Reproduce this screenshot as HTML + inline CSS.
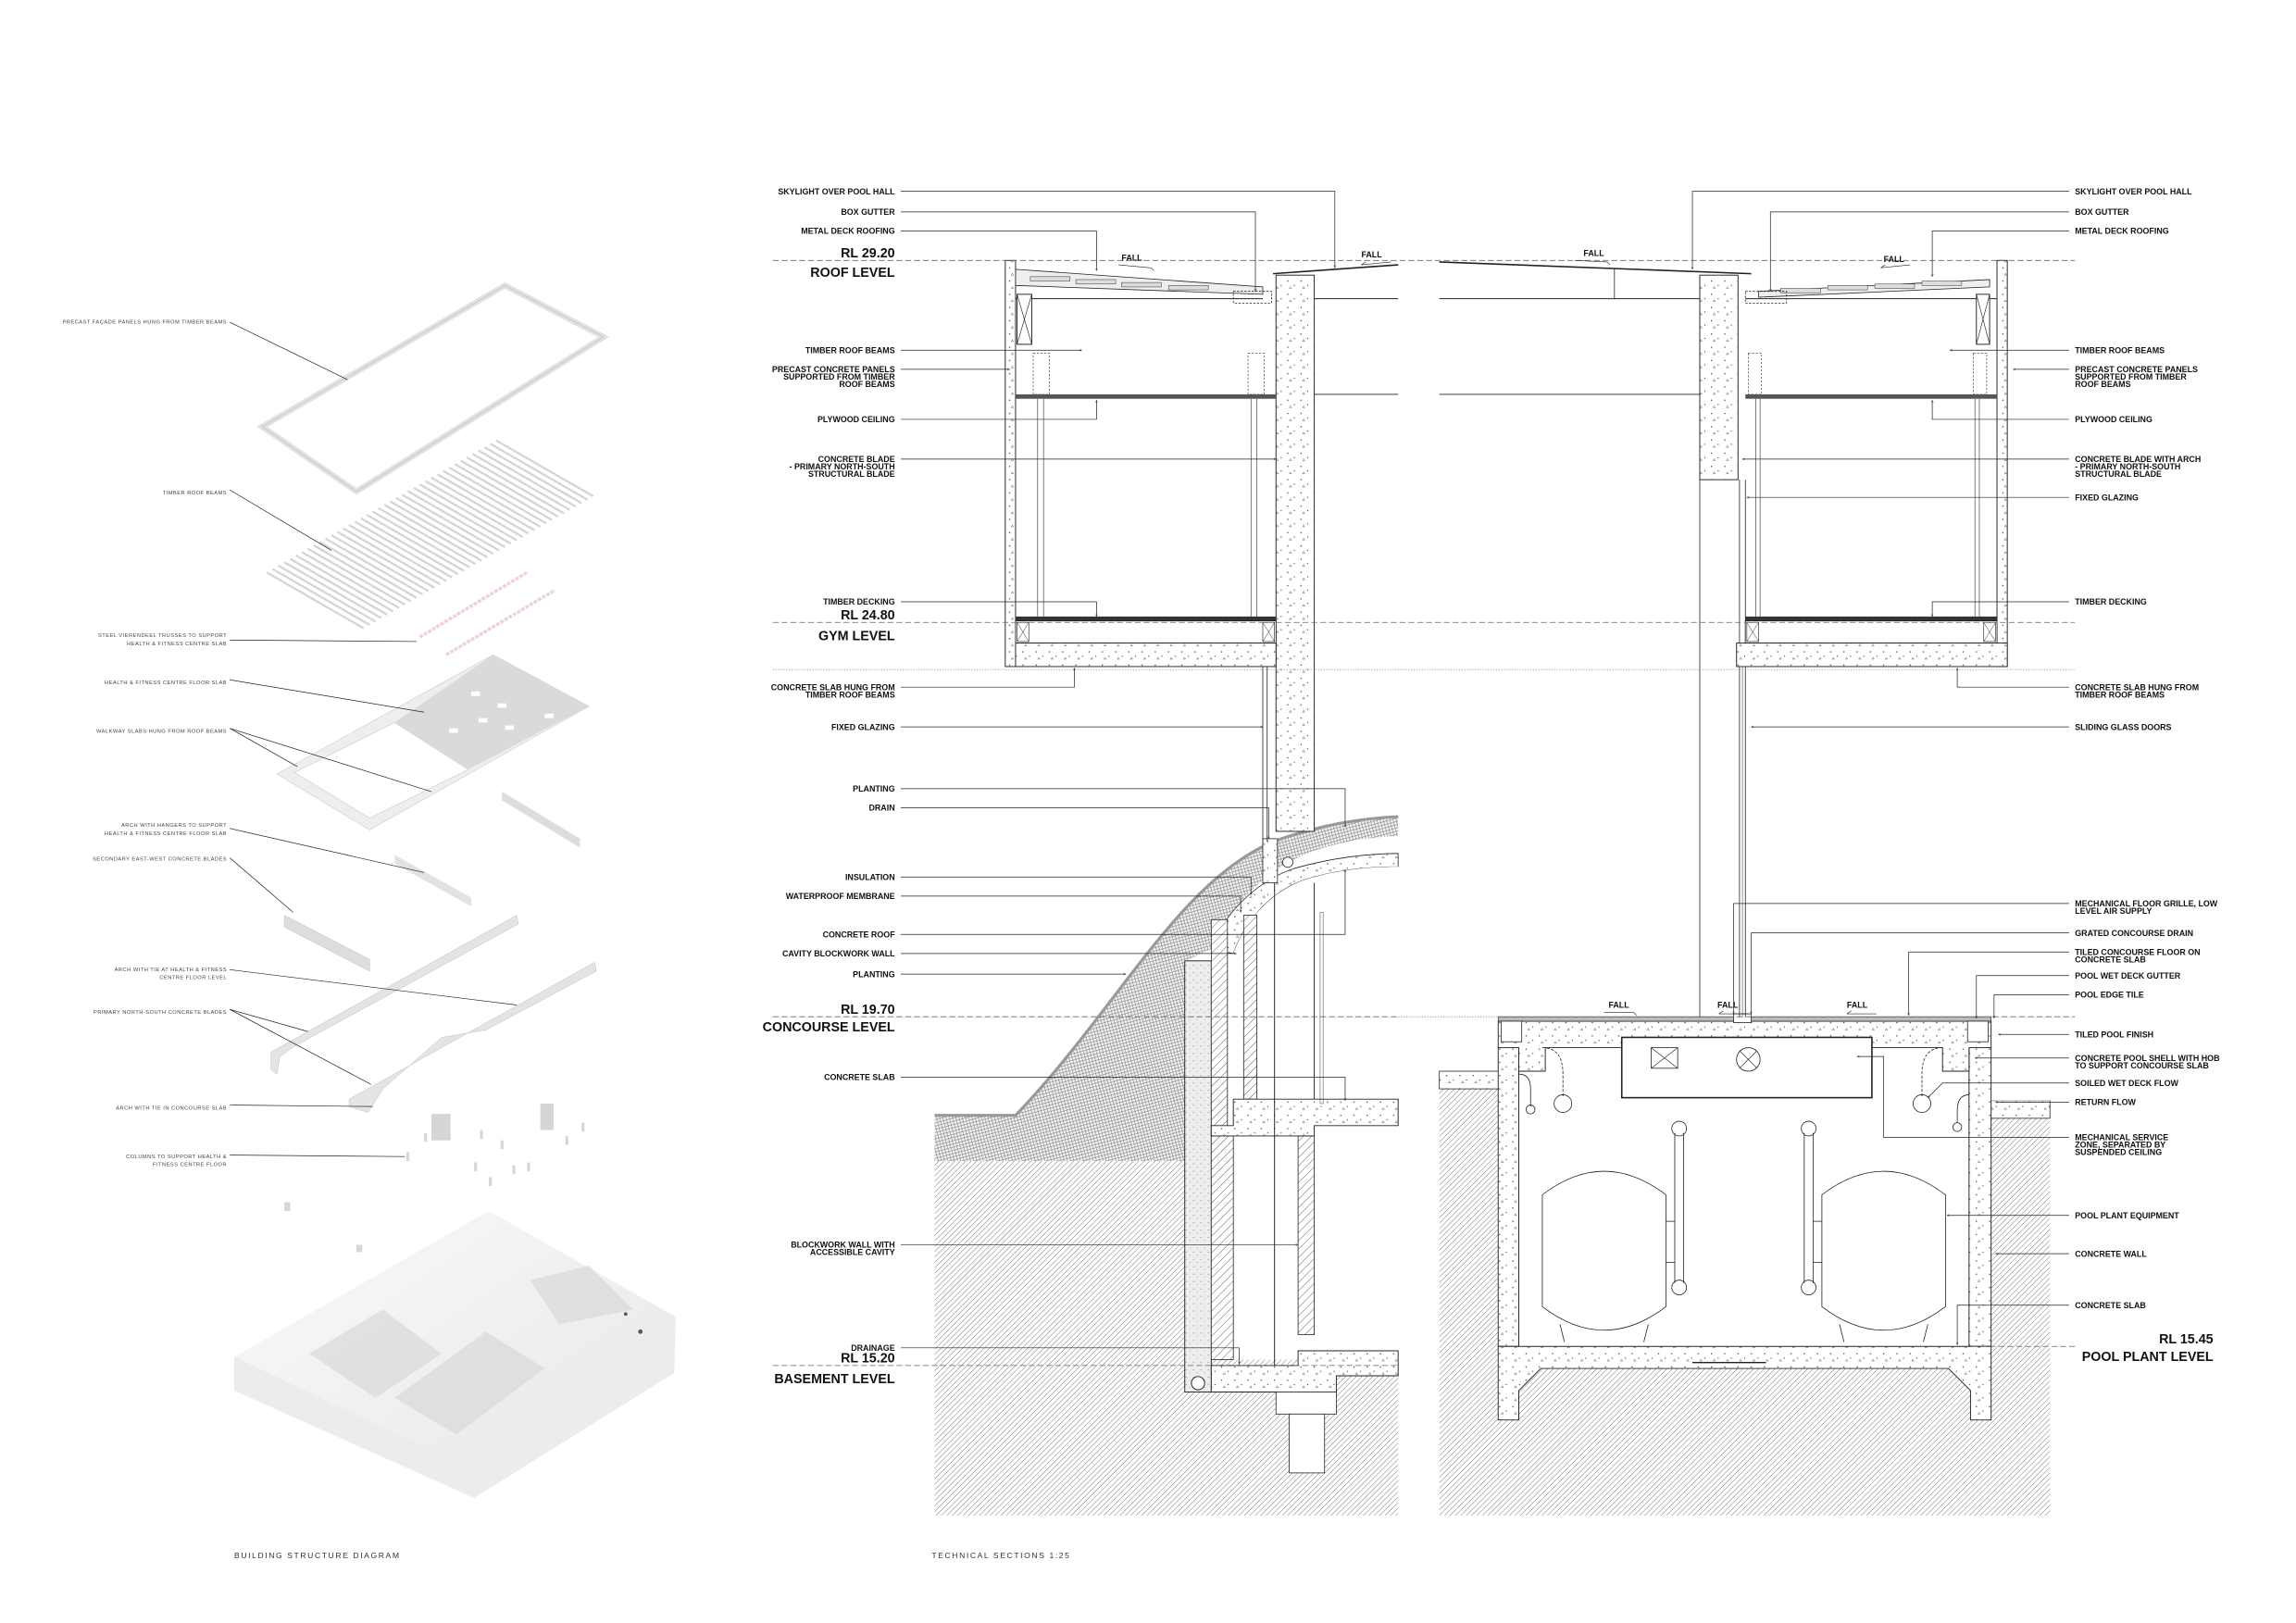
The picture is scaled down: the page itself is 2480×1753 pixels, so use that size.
<!DOCTYPE html>
<html><head><meta charset="utf-8"><style>
html,body{margin:0;padding:0;background:#fff}
svg{display:block}
.l{font-family:"Liberation Sans",sans-serif;font-weight:bold;font-size:5.6px;fill:#111}
.lv{font-family:"Liberation Sans",sans-serif;font-weight:bold;font-size:9px;fill:#111}
.sm{font-family:"Liberation Sans",sans-serif;font-size:3.6px;fill:#444;letter-spacing:0.3px}
.cap{font-family:"Liberation Sans",sans-serif;font-size:5.4px;fill:#333;letter-spacing:1px}
.ld{stroke:#222;stroke-width:0.45;fill:none}
.th{stroke:#222;stroke-width:0.6;fill:none}
</style></head><body>
<svg width="2480" height="1753" viewBox="0 0 1560 1103" xmlns="http://www.w3.org/2000/svg">
<defs>
<pattern id="hat" width="2.6" height="2.6" patternUnits="userSpaceOnUse" patternTransform="rotate(45)"><rect width="2.6" height="2.6" fill="#fff"/><line x1="0" y1="0" x2="0" y2="2.6" stroke="#444" stroke-width="0.45"/></pattern>
<pattern id="hat2" width="4" height="4" patternUnits="userSpaceOnUse" patternTransform="rotate(45)"><rect width="4" height="4" fill="#fff"/><line x1="0" y1="0" x2="0" y2="4" stroke="#333" stroke-width="0.5"/></pattern>
<pattern id="xh" width="3" height="3" patternUnits="userSpaceOnUse" patternTransform="rotate(30)"><rect width="3" height="3" fill="#f2f2f2"/><path d="M0,0L3,3M3,0L0,3" stroke="#777" stroke-width="0.35"/></pattern>
<pattern id="con" width="9" height="9" patternUnits="userSpaceOnUse"><rect width="9" height="9" fill="#fff"/><circle cx="2" cy="2" r="0.45" fill="#444"/><circle cx="6.5" cy="5" r="0.4" fill="#444"/><path d="M3,7l0.8,-1.3l0.8,1.3z" fill="none" stroke="#444" stroke-width="0.25"/></pattern>
<pattern id="con2" width="5" height="5" patternUnits="userSpaceOnUse"><rect width="5" height="5" fill="#eee"/><circle cx="1" cy="1" r="0.35" fill="#777"/><circle cx="3.5" cy="3" r="0.3" fill="#777"/></pattern>
<marker id="a" viewBox="0 0 6 6" refX="5.5" refY="3" markerWidth="4" markerHeight="4" orient="auto"><path d="M0,0.5L5.5,3L0,5.5" fill="none" stroke="#222" stroke-width="0.8"/></marker>
<linearGradient id="bg" x1="0" y1="0" x2="1" y2="1"><stop offset="0" stop-color="#fafafa"/><stop offset="1" stop-color="#e6e6e6"/></linearGradient>
</defs>

<!-- ================= LEFT DIAGRAM ================= -->
<g>
<path d="M178,290 L343,194 L410,229 L242,334 Z" fill="none" stroke="#e2e2e2" stroke-width="4"/>
<path d="M178,290 L343,194 L410,229 L242,334 Z" fill="none" stroke="#bbb" stroke-width="0.4"/>
<g stroke="#d4d4d4" stroke-width="1.4">
<line x1="181" y1="389" x2="247" y2="427"/><line x1="185" y1="386.7" x2="251" y2="424.7"/><line x1="189" y1="384.4" x2="255" y2="422.4"/><line x1="193" y1="382.1" x2="259" y2="420.1"/><line x1="197" y1="379.8" x2="263" y2="417.8"/><line x1="201" y1="377.5" x2="267" y2="415.5"/><line x1="205" y1="375.2" x2="271" y2="413.2"/><line x1="209" y1="372.9" x2="275" y2="410.9"/><line x1="213" y1="370.6" x2="279" y2="408.6"/><line x1="217" y1="368.3" x2="283" y2="406.3"/><line x1="221" y1="366" x2="287" y2="404"/><line x1="225" y1="363.7" x2="291" y2="401.7"/><line x1="229" y1="361.4" x2="295" y2="399.4"/><line x1="233" y1="359.1" x2="299" y2="397.1"/><line x1="237" y1="356.8" x2="303" y2="394.8"/><line x1="241" y1="354.5" x2="307" y2="392.5"/><line x1="245" y1="352.2" x2="311" y2="390.2"/><line x1="249" y1="349.9" x2="315" y2="387.9"/><line x1="253" y1="347.6" x2="319" y2="385.6"/><line x1="257" y1="345.3" x2="323" y2="383.3"/><line x1="261" y1="343" x2="327" y2="381"/><line x1="265" y1="340.7" x2="331" y2="378.7"/><line x1="269" y1="338.4" x2="335" y2="376.4"/><line x1="273" y1="336.1" x2="339" y2="374.1"/><line x1="277" y1="333.8" x2="343" y2="371.8"/><line x1="281" y1="331.5" x2="347" y2="369.5"/><line x1="285" y1="329.2" x2="351" y2="367.2"/><line x1="289" y1="326.9" x2="355" y2="364.9"/><line x1="293" y1="324.6" x2="359" y2="362.6"/><line x1="297" y1="322.3" x2="363" y2="360.3"/><line x1="301" y1="320" x2="367" y2="358"/><line x1="305" y1="317.7" x2="371" y2="355.7"/><line x1="309" y1="315.4" x2="375" y2="353.4"/><line x1="313" y1="313.1" x2="379" y2="351.1"/><line x1="317" y1="310.8" x2="383" y2="348.8"/><line x1="321" y1="308.5" x2="387" y2="346.5"/><line x1="325" y1="306.2" x2="391" y2="344.2"/><line x1="329" y1="303.9" x2="395" y2="341.9"/><line x1="333" y1="301.6" x2="399" y2="339.6"/><line x1="337" y1="299.3" x2="403" y2="337.3"/>
</g>
<g stroke="#ecd4d4" stroke-width="2.2" stroke-dasharray="2.5,0.8"><line x1="285" y1="433" x2="358" y2="389"/><line x1="303" y1="445" x2="377" y2="401"/></g>
<path d="M188,526 L335,445 L400,480 L251,564 Z" fill="#eee" stroke="#ccc" stroke-width="0.4"/>
<path d="M200,525 L268,491 L318,523 L251,556 Z" fill="#fff" stroke="#ccc" stroke-width="0.4"/>
<path d="M268,491 L335,445 L400,480 L318,523 Z" fill="#dadada"/>
<g fill="#fff"><rect x="320" y="470" width="6" height="3"/><rect x="338" y="478" width="6" height="3"/><rect x="325" y="488" width="6" height="3"/><rect x="343" y="493" width="6" height="3"/><rect x="370" y="485" width="6" height="3"/><rect x="305" y="495" width="6" height="3"/></g>
<path d="M341,538 L394,570 L394,576 L341,544 Z" fill="#ddd"/>
<path d="M268,581 L320,610 L320,616 L268,587 Z" fill="#e2e2e2"/>
<path d="M193,622 L251,652 L251,660 L193,630 Z" fill="#ddd" stroke="#bbb" stroke-width="0.3"/>
<path d="M184,715 L351,622 L352,628 L200,711 L190,718 L188,730 L184,727 Z" fill="#e4e4e4" stroke="#bbb" stroke-width="0.3"/>
<path d="M237,747 L404,654 L405,660 L330,700 L300,705 L260,740 L250,756 L237,752 Z" fill="#e4e4e4" stroke="#bbb" stroke-width="0.3"/>
<g fill="#d6d6d6"><rect x="293" y="757" width="13" height="18"/><rect x="367" y="750" width="9" height="18"/><rect x="276" y="783" width="2" height="6"/><rect x="288" y="770" width="2" height="6"/><rect x="326" y="768" width="2" height="6"/><rect x="322" y="790" width="2" height="6"/><rect x="340" y="775" width="2" height="6"/><rect x="348" y="792" width="2" height="6"/><rect x="358" y="790" width="2" height="6"/><rect x="395" y="763" width="2" height="6"/><rect x="384" y="772" width="2" height="6"/><rect x="332" y="800" width="2" height="6"/><rect x="193" y="817" width="4" height="6"/><rect x="242" y="846" width="4" height="5"/></g>
<path d="M159,922 L332,823 L459,895 L458,933 L322,1018 L159,945 Z" fill="url(#bg)"/>
<path d="M159,922 L322,1000 L458,905 L458,933 L322,1018 L159,945 Z" fill="#ececec"/>
<path d="M210,920 L260,890 L300,920 L255,950 Z M268,950 L330,905 L370,930 L310,975 Z M360,870 L400,860 L430,890 L380,900 Z" fill="#d9d9d9" opacity="0.7"/>
<circle cx="435" cy="905" r="1.5" fill="#555"/><circle cx="425" cy="893" r="1.2" fill="#555"/>
<g class="ld" stroke="#555">
<line x1="156" y1="219" x2="236" y2="258"/><line x1="156" y1="333" x2="225" y2="374"/><line x1="156" y1="435" x2="283" y2="436"/><line x1="156" y1="462" x2="288" y2="484"/><line x1="156" y1="495" x2="202" y2="521"/><line x1="156" y1="495" x2="293" y2="538"/><line x1="156" y1="563" x2="288" y2="593"/><line x1="156" y1="583" x2="199" y2="620"/><line x1="156" y1="659" x2="351" y2="683"/><line x1="156" y1="686" x2="209" y2="701"/><line x1="156" y1="686" x2="252" y2="737"/><line x1="156" y1="751" x2="253" y2="752"/><line x1="156" y1="785" x2="275" y2="786"/>
</g>
<g class="sm" text-anchor="end">
<text x="154" y="220">PRECAST FAÇADE PANELS HUNG FROM TIMBER BEAMS</text>
<text x="154" y="336">TIMBER ROOF BEAMS</text>
<text x="154" y="433">STEEL VIERENDEEL TRUSSES TO SUPPORT</text><text x="154" y="438.5">HEALTH &amp; FITNESS CENTRE SLAB</text>
<text x="154" y="465">HEALTH &amp; FITNESS CENTRE FLOOR SLAB</text>
<text x="154" y="498">WALKWAY SLABS HUNG FROM ROOF BEAMS</text>
<text x="154" y="562">ARCH WITH HANGERS TO SUPPORT</text><text x="154" y="567.5">HEALTH &amp; FITNESS CENTRE FLOOR SLAB</text>
<text x="154" y="585">SECONDARY EAST-WEST CONCRETE BLADES</text>
<text x="154" y="660">ARCH WITH TIE AT HEALTH &amp; FITNESS</text><text x="154" y="665.5">CENTRE FLOOR LEVEL</text>
<text x="154" y="689">PRIMARY NORTH-SOUTH CONCRETE BLADES</text>
<text x="154" y="754">ARCH WITH TIE IN CONCOURSE SLAB</text>
<text x="154" y="787">COLUMNS TO SUPPORT HEALTH &amp;</text><text x="154" y="792.5">FITNESS CENTRE FLOOR</text>
</g>
<text class="cap" x="159" y="1059">BUILDING STRUCTURE DIAGRAM</text>
</g>

<!-- ================= LEFT SECTION ================= -->
<g>
<rect x="635" y="789" width="315" height="241" fill="url(#hat)"/>
<path d="M635,758 L690,758 C760,685 800,600 865,572 C895,561 925,556 950,555 L950,568 C912,570 886,578 866,592 C846,606 832,625 823,645 L805,653 L805,789 L635,789 Z" fill="url(#xh)"/>
<path d="M635,758 L690,758 C760,685 800,600 865,572 C895,561 925,556 950,555" fill="none" stroke="#999" stroke-width="2"/>
<path d="M823,645 C833,617 858,597 880,590 C905,583 930,580 950,580 L950,589 C926,589 905,592 886,598 C862,607 846,626 838,648 Z" fill="url(#con)" stroke="#222" stroke-width="0.5"/>
<path d="M838,648 C846,626 862,607 886,598 C905,592 926,589 950,589 L950,924 L838,924 Z" fill="#fff"/>
<rect x="805" y="653" width="18" height="293" fill="url(#con2)" stroke="#222" stroke-width="0.6"/>
<circle cx="814" cy="940" r="4.5" fill="#fff" stroke="#222" stroke-width="0.6"/>
<rect x="823" y="625" width="11" height="147" fill="url(#hat2)" stroke="#222" stroke-width="0.5"/>
<rect x="845" y="622" width="9" height="125" fill="url(#hat2)" stroke="#222" stroke-width="0.5"/>
<rect x="823" y="772" width="15" height="152" fill="url(#hat2)" stroke="#222" stroke-width="0.5"/>
<rect x="882" y="772" width="11" height="135" fill="url(#hat2)" stroke="#222" stroke-width="0.5"/>
<path d="M823,765 L838,765 L838,747 L950,747 L950,765 L893,765 L893,772 L823,772 Z" fill="url(#con)" stroke="#222" stroke-width="0.6"/>
<path d="M823,928 L882,928 L882,918 L950,918 L950,935 L908,935 L908,946 L823,946 Z" fill="url(#con)" stroke="#222" stroke-width="0.6"/>
<rect x="867" y="946" width="41" height="15" fill="#fff" stroke="#222" stroke-width="0.5"/>
<rect x="876" y="961" width="24" height="40" fill="#fff" stroke="#222" stroke-width="0.5"/>
<line x1="866" y1="600" x2="866" y2="928" class="th" stroke-width="0.4"/>
<line x1="893" y1="600" x2="893" y2="747" class="th" stroke-width="0.4"/>
<rect x="897" y="620" width="2" height="130" fill="none" stroke="#333" stroke-width="0.3"/>
<rect x="858" y="570" width="10" height="30" fill="url(#con)" stroke="#222" stroke-width="0.5"/>
<circle cx="875" cy="586" r="3.5" fill="#fff" stroke="#222" stroke-width="0.5"/>
<line x1="858" y1="452" x2="858" y2="572" stroke="#222" stroke-width="0.5"/><line x1="861" y1="452" x2="861" y2="572" stroke="#222" stroke-width="0.5"/>
<rect x="683" y="177" width="7" height="276" fill="url(#con)" stroke="#222" stroke-width="0.6"/>
<rect x="867" y="187" width="26" height="378" fill="url(#con)" stroke="#222" stroke-width="0.6"/>
<path d="M690,183 L858,195 L858,200 L690,194 Z" fill="#eee" stroke="#222" stroke-width="0.5"/>
<g stroke="#555" stroke-width="0.4" fill="#ddd"><rect x="700" y="188" width="27" height="3"/><rect x="731" y="190" width="27" height="3"/><rect x="762" y="192" width="27" height="3"/><rect x="794" y="194" width="27" height="3"/></g>
<line x1="690" y1="203" x2="858" y2="203" class="th"/>
<path d="M838,198 L864,198 L864,206 L838,206 Z" fill="none" stroke="#222" stroke-width="0.5" stroke-dasharray="1.5,1"/>
<line x1="865" y1="186" x2="950" y2="180" stroke="#222" stroke-width="1"/>
<line x1="893" y1="203" x2="950" y2="203" class="th" stroke-width="0.4"/>
<line x1="893" y1="268" x2="950" y2="268" class="th" stroke-width="0.4"/>
<rect x="691" y="200" width="10" height="34" fill="#fff" stroke="#222" stroke-width="0.6"/><path d="M691,200L701,234M701,200L691,234" stroke="#222" stroke-width="0.4"/>
<rect x="702" y="240" width="11" height="28" fill="none" stroke="#333" stroke-width="0.4" stroke-dasharray="1.5,1"/>
<rect x="848" y="240" width="11" height="28" fill="none" stroke="#333" stroke-width="0.4" stroke-dasharray="1.5,1"/>
<rect x="690" y="268" width="177" height="3" fill="#555"/>
<g stroke="#333" stroke-width="0.4"><line x1="705" y1="271" x2="705" y2="419"/><line x1="709" y1="271" x2="709" y2="419"/><line x1="850" y1="271" x2="850" y2="419"/><line x1="854" y1="271" x2="854" y2="419"/></g>
<rect x="690" y="419" width="177" height="3" fill="#333"/>
<rect x="690" y="422" width="177" height="15" fill="#fff" stroke="#222" stroke-width="0.5"/>
<rect x="691" y="423" width="8" height="13" fill="none" stroke="#222" stroke-width="0.4"/><path d="M691,423L699,436M699,423L691,436" stroke="#222" stroke-width="0.3"/>
<rect x="858" y="423" width="8" height="13" fill="none" stroke="#222" stroke-width="0.4"/><path d="M858,423L866,436M866,423L858,436" stroke="#222" stroke-width="0.3"/>
<rect x="690" y="437" width="177" height="16" fill="url(#con)" stroke="#222" stroke-width="0.6"/>
</g>

<!-- ================= RIGHT SECTION ================= -->
<g>
<rect x="978" y="740" width="415" height="290" fill="url(#hat)"/>
<rect x="978" y="728" width="42" height="12" fill="url(#con)" stroke="#222" stroke-width="0.5"/>
<rect x="1352" y="748" width="41" height="12" fill="url(#con)" stroke="#222" stroke-width="0.5"/>
<rect x="1352" y="740" width="41" height="8" fill="#fff"/>
<rect x="1032" y="712" width="306" height="203" fill="#fff"/>
<rect x="1018" y="712" width="14" height="203" fill="url(#con)" stroke="#222" stroke-width="0.6"/>
<rect x="1338" y="712" width="15" height="203" fill="url(#con)" stroke="#222" stroke-width="0.6"/>
<path d="M1018,915 L1353,915 L1353,965 L1339,965 L1339,945 L1324,930 L1047,930 L1032,945 L1032,965 L1018,965 Z" fill="url(#con)" stroke="#222" stroke-width="0.6"/>
<path d="M1018,712 L1018,694 L1353,694 L1353,712 L1338,712 L1338,728 L1320,728 L1320,712 L1050,712 L1050,728 L1032,728 L1032,712 Z" fill="url(#con)" stroke="#222" stroke-width="0.6"/>
<rect x="1018" y="691" width="335" height="3" fill="#bbb" stroke="#222" stroke-width="0.4"/>
<rect x="1020" y="694" width="14" height="14" fill="#fff" stroke="#222" stroke-width="0.5"/>
<rect x="1337" y="694" width="14" height="14" fill="#fff" stroke="#222" stroke-width="0.5"/>
<rect x="1178" y="689" width="12" height="6" fill="#fff" stroke="#222" stroke-width="0.5"/>
<rect x="1102" y="705" width="170" height="41" fill="#fff" stroke="#222" stroke-width="1"/>
<rect x="1122" y="712" width="18" height="14" fill="none" stroke="#222" stroke-width="0.5"/><path d="M1122,712L1140,726M1140,712L1122,726" stroke="#222" stroke-width="0.4"/>
<circle cx="1188" cy="720" r="8" fill="#fff" stroke="#222" stroke-width="0.5"/><path d="M1182,714L1194,726M1194,714L1182,726" stroke="#222" stroke-width="0.4"/>
<g fill="none" stroke="#222" stroke-width="0.5">
<path d="M1032,730 Q1040,730 1040,740 L1040,752"/><circle cx="1040" cy="754" r="3"/>
<path d="M1048,712 Q1062,712 1062,730 L1062,745" stroke-dasharray="2,1"/><circle cx="1062" cy="750" r="6"/>
<path d="M1320,712 Q1306,712 1306,730 L1306,745" stroke-dasharray="2,1"/><circle cx="1306" cy="750" r="6"/>
<path d="M1338,744 Q1330,744 1330,755 L1330,763"/><circle cx="1330" cy="766" r="3"/>
<path d="M1048,812 Q1090,780 1132,812 L1132,888 Q1090,920 1048,888 Z"/>
<path d="M1238,812 Q1280,780 1322,812 L1322,888 Q1280,920 1238,888 Z"/>
<path d="M1060,900 L1063,912 M1120,900 L1117,912 M1250,900 L1253,912 M1310,900 L1307,912"/>
<line x1="1138" y1="770" x2="1138" y2="872"/><line x1="1144" y1="770" x2="1144" y2="872"/><circle cx="1141" cy="767" r="5"/><circle cx="1141" cy="875" r="5"/>
<line x1="1132" y1="830" x2="1138" y2="830"/><line x1="1132" y1="858" x2="1138" y2="858"/>
<line x1="1226" y1="770" x2="1226" y2="872"/><line x1="1232" y1="770" x2="1232" y2="872"/><circle cx="1229" cy="767" r="5"/><circle cx="1229" cy="875" r="5"/>
<line x1="1232" y1="830" x2="1238" y2="830"/><line x1="1232" y1="858" x2="1238" y2="858"/>
<line x1="1150" y1="926" x2="1200" y2="926" stroke-width="0.8"/>
</g>
<line x1="1182" y1="326" x2="1182" y2="691" stroke="#222" stroke-width="0.5"/><line x1="1186" y1="326" x2="1186" y2="691" stroke="#222" stroke-width="0.5"/><line x1="1184" y1="452" x2="1184" y2="691" stroke="#222" stroke-width="0.3"/>
<line x1="1155" y1="326" x2="1155" y2="691" stroke="#222" stroke-width="0.5"/>
<line x1="978" y1="178" x2="1190" y2="186" stroke="#222" stroke-width="1"/>
<line x1="1097" y1="183" x2="1097" y2="203" stroke="#222" stroke-width="0.5"/>
<line x1="978" y1="203" x2="1155" y2="203" class="th" stroke-width="0.4"/>
<line x1="978" y1="268" x2="1155" y2="268" class="th" stroke-width="0.4"/>
<rect x="1155" y="187" width="26" height="139" fill="url(#con)" stroke="#222" stroke-width="0.6"/>
<rect x="1357" y="177" width="7" height="276" fill="url(#con)" stroke="#222" stroke-width="0.6"/>
<path d="M1195,198 L1352,190 L1352,195 L1195,202 Z" fill="#eee" stroke="#222" stroke-width="0.5"/>
<g stroke="#555" stroke-width="0.4" fill="#ddd"><rect x="1210" y="196" width="27" height="3"/><rect x="1242" y="194" width="27" height="3"/><rect x="1274" y="193" width="27" height="3"/><rect x="1306" y="191" width="27" height="3"/></g>
<line x1="1186" y1="203" x2="1357" y2="203" class="th"/>
<path d="M1186,198 L1214,198 L1214,206 L1186,206 Z" fill="none" stroke="#222" stroke-width="0.5" stroke-dasharray="1.5,1"/>
<rect x="1343" y="200" width="9" height="34" fill="#fff" stroke="#222" stroke-width="0.6"/><path d="M1343,200L1352,234M1352,200L1343,234" stroke="#222" stroke-width="0.4"/>
<rect x="1188" y="240" width="9" height="28" fill="none" stroke="#333" stroke-width="0.4" stroke-dasharray="1.5,1"/>
<rect x="1341" y="240" width="9" height="28" fill="none" stroke="#333" stroke-width="0.4" stroke-dasharray="1.5,1"/>
<rect x="1186" y="268" width="171" height="3" fill="#555"/>
<g stroke="#333" stroke-width="0.4"><line x1="1193" y1="271" x2="1193" y2="419"/><line x1="1196" y1="271" x2="1196" y2="419"/><line x1="1342" y1="271" x2="1342" y2="419"/><line x1="1345" y1="271" x2="1345" y2="419"/></g>
<rect x="1186" y="419" width="171" height="3" fill="#333"/>
<rect x="1186" y="422" width="171" height="15" fill="#fff" stroke="#222" stroke-width="0.5"/>
<rect x="1187" y="423" width="8" height="13" fill="none" stroke="#222" stroke-width="0.4"/><path d="M1187,423L1195,436M1195,423L1187,436" stroke="#222" stroke-width="0.3"/>
<rect x="1348" y="423" width="8" height="13" fill="none" stroke="#222" stroke-width="0.4"/><path d="M1348,423L1356,436M1356,423L1348,436" stroke="#222" stroke-width="0.3"/>
<rect x="1180" y="437" width="184" height="16" fill="url(#con)" stroke="#222" stroke-width="0.6"/>
</g>

<g stroke="#666" stroke-width="0.5" stroke-dasharray="4,2" fill="none">
<line x1="525" y1="177" x2="1410" y2="177"/><line x1="525" y1="423" x2="1410" y2="423"/>
<line x1="525" y1="691" x2="950" y2="691"/><line x1="1018" y1="691" x2="1410" y2="691"/>
<line x1="525" y1="928" x2="950" y2="928"/><line x1="1340" y1="915" x2="1410" y2="915"/>
</g>
<g stroke="#888" stroke-width="0.5" stroke-dasharray="0.8,1" fill="none">
<line x1="525" y1="455" x2="1410" y2="455"/><line x1="950" y1="691" x2="1018" y2="691"/>
</g>

<g class="l">
<text x="762" y="177">FALL</text><text x="925" y="175">FALL</text><text x="1076" y="174">FALL</text><text x="1280" y="178">FALL</text>
<text x="1093" y="685">FALL</text><text x="1167" y="685">FALL</text><text x="1255" y="685">FALL</text>
</g>
<g stroke="#222" stroke-width="0.4" fill="none">
<path d="M760,180 L782,182 L784,184"/><path d="M925,180 L945,178 M925,180 L928,178"/><path d="M1070,177 L1092,178 L1094,180"/><path d="M1278,182 L1298,180 M1278,182 L1281,180"/>
<path d="M1090,688 L1110,688 L1112,690"/><path d="M1168,689 L1188,689 M1168,689 L1171,687"/><path d="M1255,689 L1275,689 M1255,689 L1258,687"/>
</g>

<g class="ld" marker-end="url(#a)">
<path d="M612,130 H907 V182"/><path d="M612,144 H853 V198"/><path d="M612,157 H745 V184"/>
<path d="M612,238 H735"/><path d="M612,251 H686"/><path d="M612,285 H745 V272"/>
<path d="M612,312 H867"/><path d="M612,409 H745 V419"/><path d="M612,467 H730 V454"/>
<path d="M612,494 H858"/><path d="M612,536 H914 V562"/><path d="M612,549 H862 V570"/>
<path d="M612,596 H850 V608"/><path d="M612,609 H843 V620"/><path d="M612,635 H914 V591"/>
<path d="M612,648 H840"/><path d="M612,662 H765"/><path d="M612,732 H914 V748"/>
<path d="M612,846 H882"/><path d="M612,916 H842 V927"/>
</g>
<g class="l" text-anchor="end">
<text x="608" y="132">SKYLIGHT OVER POOL HALL</text>
<text x="608" y="146">BOX GUTTER</text>
<text x="608" y="159">METAL DECK ROOFING</text>
<text x="608" y="240">TIMBER ROOF BEAMS</text>
<text x="608" y="253">PRECAST CONCRETE PANELS</text><text x="608" y="258">SUPPORTED FROM TIMBER</text><text x="608" y="263">ROOF BEAMS</text>
<text x="608" y="287">PLYWOOD CEILING</text>
<text x="608" y="314">CONCRETE BLADE</text><text x="608" y="319">- PRIMARY NORTH-SOUTH</text><text x="608" y="324">STRUCTURAL BLADE</text>
<text x="608" y="411">TIMBER DECKING</text>
<text x="608" y="469">CONCRETE SLAB HUNG FROM</text><text x="608" y="474">TIMBER ROOF BEAMS</text>
<text x="608" y="496">FIXED GLAZING</text>
<text x="608" y="538">PLANTING</text>
<text x="608" y="551">DRAIN</text>
<text x="608" y="598">INSULATION</text>
<text x="608" y="611">WATERPROOF MEMBRANE</text>
<text x="608" y="637">CONCRETE ROOF</text>
<text x="608" y="650">CAVITY BLOCKWORK WALL</text>
<text x="608" y="664">PLANTING</text>
<text x="608" y="734">CONCRETE SLAB</text>
<text x="608" y="848">BLOCKWORK WALL WITH</text><text x="608" y="853">ACCESSIBLE CAVITY</text>
<text x="608" y="918">DRAINAGE</text>
</g>
<g class="lv" text-anchor="end">
<text x="608" y="175">RL 29.20</text><text x="608" y="188">ROOF LEVEL</text>
<text x="608" y="421">RL 24.80</text><text x="608" y="435">GYM LEVEL</text>
<text x="608" y="689">RL 19.70</text><text x="608" y="701">CONCOURSE LEVEL</text>
<text x="608" y="926">RL 15.20</text><text x="608" y="940">BASEMENT LEVEL</text>
</g>

<g class="ld" marker-end="url(#a)">
<path d="M1406,130 H1150 V183"/><path d="M1406,144 H1203 V198"/><path d="M1406,157 H1313 V188"/>
<path d="M1406,238 H1325"/><path d="M1406,251 H1368"/><path d="M1406,285 H1313 V272"/>
<path d="M1406,312 H1184"/><path d="M1406,338 H1187"/><path d="M1406,409 H1313 V419"/>
<path d="M1406,467 H1330 V454"/><path d="M1406,494 H1190"/>
<path d="M1406,614 H1178 V689"/><path d="M1406,634 H1190 V689"/><path d="M1406,647 H1297 V690"/>
<path d="M1406,663 H1343 V692"/><path d="M1406,676 H1355 V692"/><path d="M1406,703 H1358"/>
<path d="M1406,719 H1342"/><path d="M1406,736 H1320 L1310,746"/><path d="M1406,749 H1356"/>
<path d="M1406,773 H1280 V718 H1262"/><path d="M1406,826 H1323"/><path d="M1406,852 H1356"/>
<path d="M1406,887 H1330 V914"/>
</g>
<g class="l">
<text x="1410" y="132">SKYLIGHT OVER POOL HALL</text>
<text x="1410" y="146">BOX GUTTER</text>
<text x="1410" y="159">METAL DECK ROOFING</text>
<text x="1410" y="240">TIMBER ROOF BEAMS</text>
<text x="1410" y="253">PRECAST CONCRETE PANELS</text><text x="1410" y="258">SUPPORTED FROM TIMBER</text><text x="1410" y="263">ROOF BEAMS</text>
<text x="1410" y="287">PLYWOOD CEILING</text>
<text x="1410" y="314">CONCRETE BLADE WITH ARCH</text><text x="1410" y="319">- PRIMARY NORTH-SOUTH</text><text x="1410" y="324">STRUCTURAL BLADE</text>
<text x="1410" y="340">FIXED GLAZING</text>
<text x="1410" y="411">TIMBER DECKING</text>
<text x="1410" y="469">CONCRETE SLAB HUNG FROM</text><text x="1410" y="474">TIMBER ROOF BEAMS</text>
<text x="1410" y="496">SLIDING GLASS DOORS</text>
<text x="1410" y="616">MECHANICAL FLOOR GRILLE, LOW</text><text x="1410" y="621">LEVEL AIR SUPPLY</text>
<text x="1410" y="636">GRATED CONCOURSE DRAIN</text>
<text x="1410" y="649">TILED CONCOURSE FLOOR ON</text><text x="1410" y="654">CONCRETE SLAB</text>
<text x="1410" y="665">POOL WET DECK GUTTER</text>
<text x="1410" y="678">POOL EDGE TILE</text>
<text x="1410" y="705">TILED POOL FINISH</text>
<text x="1410" y="721">CONCRETE POOL SHELL WITH HOB</text><text x="1410" y="726">TO SUPPORT CONCOURSE SLAB</text>
<text x="1410" y="738">SOILED WET DECK FLOW</text>
<text x="1410" y="751">RETURN FLOW</text>
<text x="1410" y="775">MECHANICAL SERVICE</text><text x="1410" y="780">ZONE, SEPARATED BY</text><text x="1410" y="785">SUSPENDED CEILING</text>
<text x="1410" y="828">POOL PLANT EQUIPMENT</text>
<text x="1410" y="854">CONCRETE WALL</text>
<text x="1410" y="889">CONCRETE SLAB</text>
</g>
<g class="lv" text-anchor="end">
<text x="1504" y="913">RL 15.45</text><text x="1504" y="925">POOL PLANT LEVEL</text>
</g>
<text class="cap" x="633" y="1059">TECHNICAL SECTIONS   1:25</text>
</svg>
</body></html>
